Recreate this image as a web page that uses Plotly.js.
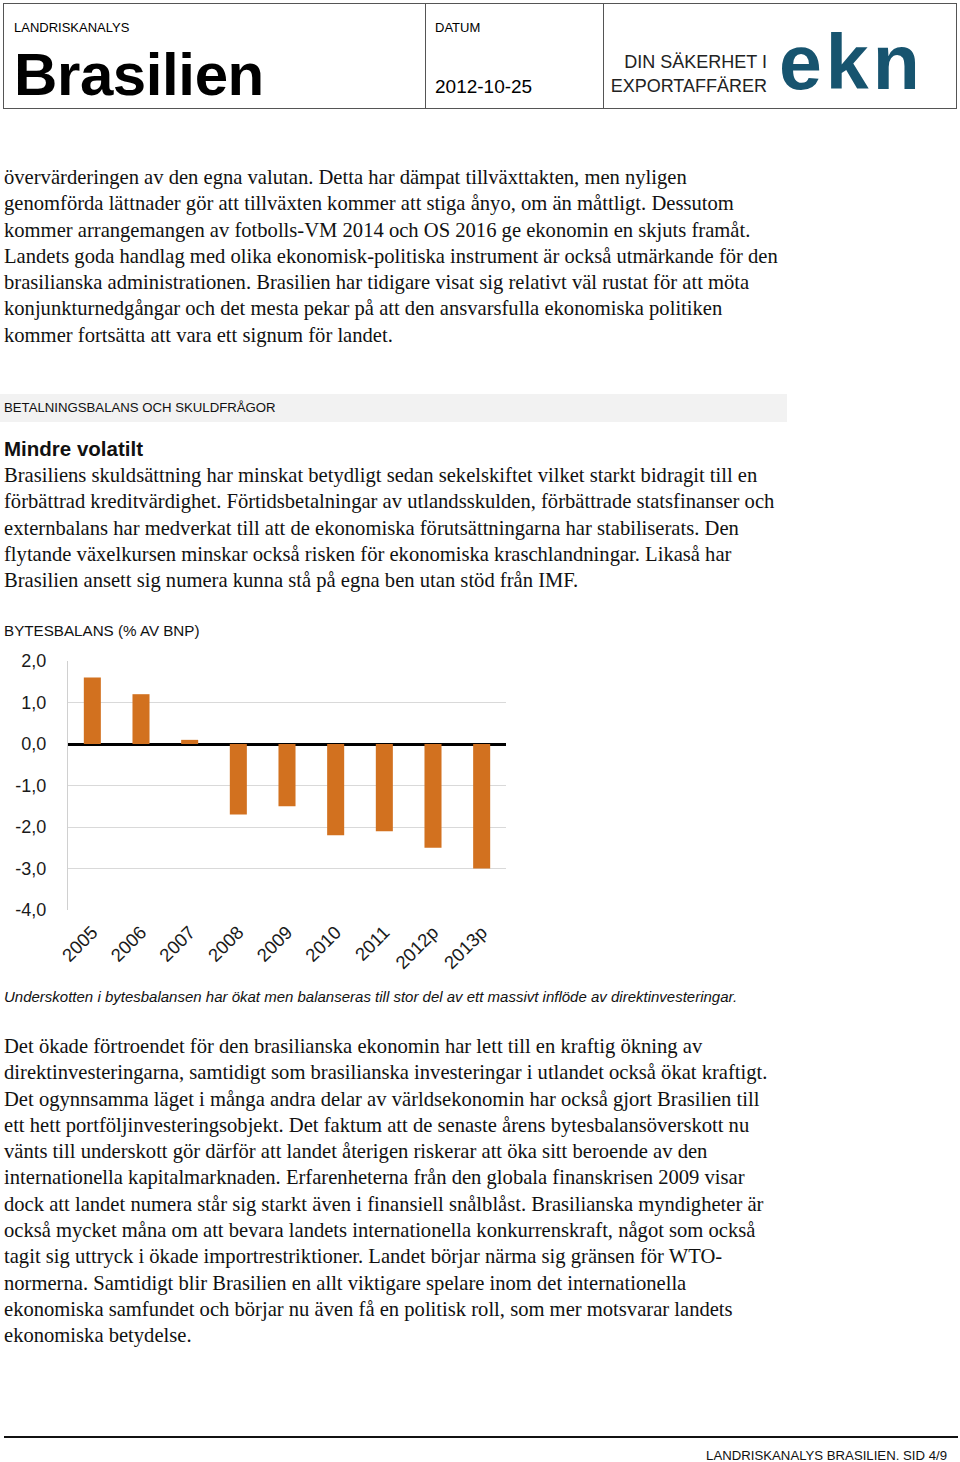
<!DOCTYPE html>
<html>
<head>
<meta charset="utf-8">
<script src="https://cdn.plot.ly/plotly-3.0.1.min.js"></script>
<style>
  html, body { margin:0; padding:0; background:#fff; }
  body { width:960px; height:1462px; position:relative; overflow:hidden; font-family:"Liberation Sans", Arial, sans-serif; color:#000; }
  .abs { position:absolute; white-space:nowrap; }
  .sans { font-family:"Liberation Sans", Arial, sans-serif; }
  .serif { font-family:"Liberation Serif", "Times New Roman", serif; font-size:20.6px; line-height:26.3px; color:#111; }
  #hdr { position:absolute; left:3px; top:3px; width:954px; height:106px; border:1px solid #555; box-sizing:border-box; }
  .vdiv { position:absolute; top:3px; height:106px; width:1px; background:#555; }
</style>
</head>
<body>
<div id="hdr"></div>
<div class="vdiv" style="left:425px"></div>
<div class="vdiv" style="left:603px"></div>
<div class="abs sans" style="left:14px; top:20px; font-size:13px;">LANDRISKANALYS</div>
<div class="abs sans" style="left:14px; top:40px; font-size:60px; font-weight:bold; letter-spacing:-0.4px; line-height:70px;">Brasilien</div>
<div class="abs sans" style="left:435px; top:20px; font-size:13px;">DATUM</div>
<div class="abs sans" style="left:435px; top:76px; font-size:19px;">2012-10-25</div>
<div class="abs sans" style="left:590px; width:177px; text-align:right; top:50px; font-size:18px; line-height:24px; color:#222;">DIN SÄKERHET I<br>EXPORTAFFÄRER</div>
<div class="abs sans" style="left:779px; top:17px; font-size:77px; font-weight:bold; color:#17546F; line-height:90px; letter-spacing:4px;">ekn</div>

<div class="abs serif" style="left:4px; top:164px;">övervärderingen av den egna valutan. Detta har dämpat tillväxttakten, men nyligen<br>genomförda lättnader gör att tillväxten kommer att stiga ånyo, om än måttligt. Dessutom<br>kommer arrangemangen av fotbolls-VM 2014 och OS 2016 ge ekonomin en skjuts framåt.<br>Landets goda handlag med olika ekonomisk-politiska instrument är också utmärkande för den<br>brasilianska administrationen. Brasilien har tidigare visat sig relativt väl rustat för att möta<br>konjunkturnedgångar och det mesta pekar på att den ansvarsfulla ekonomiska politiken<br>kommer fortsätta att vara ett signum för landet.</div>

<div class="abs" style="left:0px; top:394px; width:787px; height:28px; background:#f2f2f2;"></div>
<div class="abs sans" style="left:4px; top:400px; font-size:13.2px; color:#111;">BETALNINGSBALANS OCH SKULDFRÅGOR</div>

<div class="abs sans" style="left:4px; top:437px; font-size:20.5px; font-weight:bold; color:#111;">Mindre volatilt</div>
<div class="abs serif" style="left:4px; top:462px;">Brasiliens skuldsättning har minskat betydligt sedan sekelskiftet vilket starkt bidragit till en<br>förbättrad kreditvärdighet. Förtidsbetalningar av utlandsskulden, förbättrade statsfinanser och<br>externbalans har medverkat till att de ekonomiska förutsättningarna har stabiliserats. Den<br>flytande växelkursen minskar också risken för ekonomiska kraschlandningar. Likaså har<br>Brasilien ansett sig numera kunna stå på egna ben utan stöd från IMF.</div>

<div class="abs sans" style="left:4px; top:622px; font-size:15.2px; color:#111;">BYTESBALANS (% AV BNP)</div>

<div id="chart" style="position:absolute; left:0px; top:640px; width:540px; height:340px;"></div>

<div class="abs sans" style="left:4px; top:988px; font-size:15px; font-style:italic; color:#111;">Underskotten i bytesbalansen har ökat men balanseras till stor del av ett massivt inflöde av direktinvesteringar.</div>

<div class="abs serif" style="left:4px; top:1033px;">Det ökade förtroendet för den brasilianska ekonomin har lett till en kraftig ökning av<br>direktinvesteringarna, samtidigt som brasilianska investeringar i utlandet också ökat kraftigt.<br>Det ogynnsamma läget i många andra delar av världsekonomin har också gjort Brasilien till<br>ett hett portföljinvesteringsobjekt. Det faktum att de senaste årens bytesbalansöverskott nu<br>vänts till underskott gör därför att landet återigen riskerar att öka sitt beroende av den<br>internationella kapitalmarknaden. Erfarenheterna från den globala finanskrisen 2009 visar<br>dock att landet numera står sig starkt även i finansiell snålblåst. Brasilianska myndigheter är<br>också mycket måna om att bevara landets internationella konkurrenskraft, något som också<br>tagit sig uttryck i ökade importrestriktioner. Landet börjar närma sig gränsen för WTO-<br>normerna. Samtidigt blir Brasilien en allt viktigare spelare inom det internationella<br>ekonomiska samfundet och börjar nu även få en politisk roll, som mer motsvarar landets<br>ekonomiska betydelse.</div>

<div class="abs" style="left:4px; top:1436px; width:954px; height:2px; background:#111;"></div>
<div class="abs sans" style="right:13px; top:1448px; font-size:13.2px; color:#111;">LANDRISKANALYS BRASILIEN. SID 4/9</div>

<script>
const years = ["2005", "2006", "2007", "2008", "2009", "2010", "2011", "2012p", "2013p"];
const currentAccount = [1.6, 1.2, 0.1, -1.7, -1.5, -2.2, -2.1, -2.5, -3.0];
const yTicks = [2, 1, 0, -1, -2, -3, -4];
const yTickText = ["2,0", "1,0", "0,0", "-1,0", "-2,0", "-3,0", "-4,0"];

const trace = {
  type: "bar",
  x: years,
  y: currentAccount,
  marker: { color: "#D2711F" },
  hoverinfo: "x+y"
};

const layout = {
  width: 540,
  height: 340,
  margin: { l: 68, r: 34, t: 21, b: 70 },
  paper_bgcolor: "#fff",
  plot_bgcolor: "#fff",
  showlegend: false,
  bargap: 0.65,
  font: { family: "Liberation Sans, Arial, sans-serif", size: 18, color: "#1a1a1a" },
  xaxis: {
    type: "category",
    tickangle: -45,
    showgrid: false,
    showline: false,
    zeroline: false,
    ticks: "",
    ticklabelstandoff: 7,
    tickfont: { size: 18.5 }
  },
  yaxis: {
    range: [-4, 2],
    tickvals: yTicks,
    ticktext: yTickText,
    showgrid: true,
    gridcolor: "#d9d9d9",
    gridwidth: 1,
    showline: true,
    linecolor: "#d0d0d0",
    linewidth: 1,
    zeroline: true,
    zerolinecolor: "#000",
    zerolinewidth: 3,
    ticks: "",
    ticklabelstandoff: 17,
    tickfont: { size: 18 }
  }
};

Plotly.newPlot("chart", [trace], layout, { displayModeBar: false, staticPlot: true });
</script>
</body>
</html>
